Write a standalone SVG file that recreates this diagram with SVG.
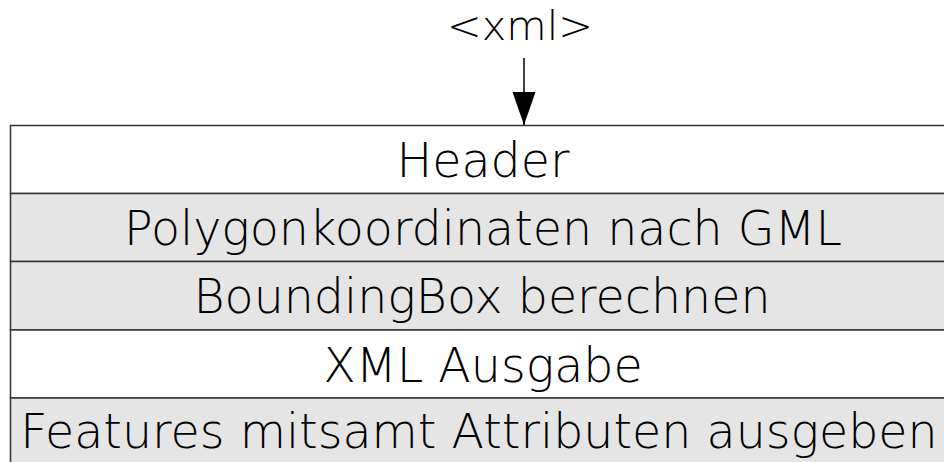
<svg xmlns="http://www.w3.org/2000/svg" width="944" height="462" viewBox="0 0 944 462">
<style>
.t{font-family:"DejaVu Sans ExtraLight","DejaVu Sans",sans-serif;font-weight:200;font-size:47.5px;fill:#000;text-anchor:middle}
.w{fill:#ffffff;stroke:#333;stroke-width:1.5}
.g{fill:#e5e5e5;stroke:#333;stroke-width:1.5}
</style>
<defs>
<marker id="ah" markerUnits="userSpaceOnUse" markerWidth="34" markerHeight="24" refX="33" refY="11.5" orient="auto" viewBox="0 0 34 24">
<path d="M0,0 L33,11.5 L0,23 Z" fill="#000"/>
</marker>
</defs>
<g id="input"><text class="t" x="520" y="40" style="font-size:41.5px">&lt;xml&gt;</text></g>
<g id="header"><rect class="w" x="10.5" y="125.5" width="950" height="68"/><text class="t" x="483" y="177">Header</text></g>
<g id="polygon"><rect class="g" x="10.5" y="193.5" width="950" height="68"/><text class="t" x="483" y="245">Polygonkoordinaten nach GML</text></g>
<g id="bbox"><rect class="g" x="10.5" y="261.5" width="950" height="68.5"/><text class="t" x="482" y="313">BoundingBox berechnen</text></g>
<g id="xmlout"><rect class="w" x="10.5" y="330" width="950" height="68"/><text class="t" x="483" y="381.5">XML Ausgabe</text></g>
<g id="features"><rect class="g" x="10.5" y="398" width="950" height="80"/><text class="t" x="479" y="448">Features mitsamt Attributen ausgeben</text></g>
<g id="connectors"><line x1="524" y1="58" x2="524" y2="125" stroke="#000" stroke-width="1.5" marker-end="url(#ah)"/></g>
</svg>
